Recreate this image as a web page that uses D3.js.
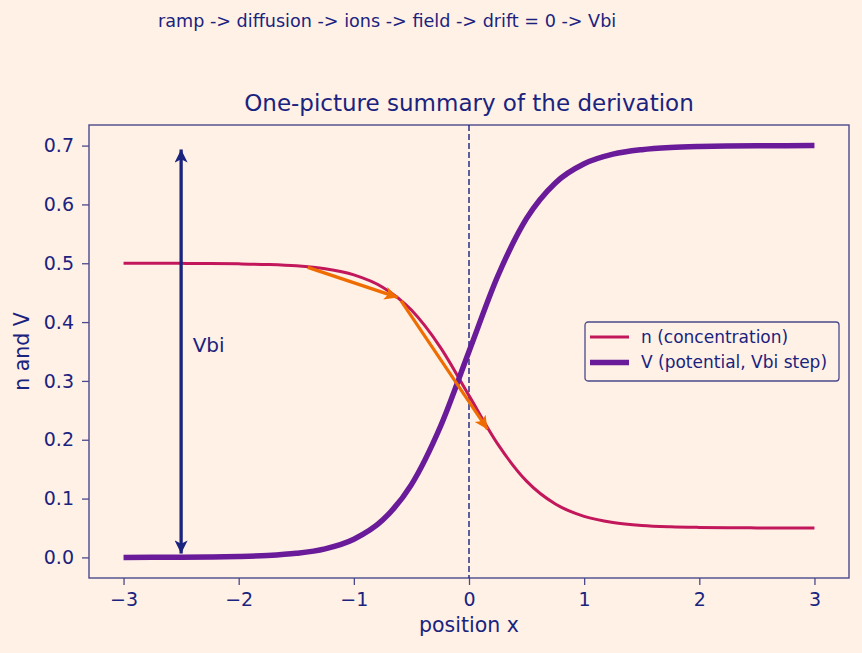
<!DOCTYPE html>
<html>
<head>
<meta charset="utf-8">
<script src="https://cdn.jsdelivr.net/npm/d3@7"></script>
<style>
  html, body { margin: 0; padding: 0; background: #fff1e6; }
  svg { display: block; font-family: "DejaVu Sans", sans-serif; }
</style>
</head>
<body>
<div id="holder"></div>
<script>
// positions along the junction
const xs = [-3, -2.75, -2.5, -2.25, -2, -1.75, -1.5, -1.25, -1, -0.75, -0.5, -0.25, 0,
            0.25, 0.5, 0.75, 1, 1.25, 1.5, 1.75, 2, 2.25, 2.5, 2.75, 3];
// n (concentration)
const nVals = [0.500, 0.4999, 0.4998, 0.4996, 0.4990, 0.4979, 0.4956, 0.4906, 0.4802, 0.4593, 0.4204, 0.3575, 0.275,
               0.1925, 0.1296, 0.0907, 0.0698, 0.0594, 0.0544, 0.0521, 0.0510, 0.0504, 0.0502, 0.0501, 0.0500];
// V (potential)
const vVals = [0.000, 0.0002, 0.0003, 0.0007, 0.0015, 0.0032, 0.0069, 0.0146, 0.0309, 0.0634, 0.1238, 0.2217, 0.35,
               0.4783, 0.5762, 0.6366, 0.6691, 0.6854, 0.6931, 0.6968, 0.6985, 0.6993, 0.6997, 0.6999, 0.700];
// orange arrows walking down the n curve: [x0, y0, x1, y1]
const walk = [[-1.4, 0.493, -0.62, 0.442], [-0.59, 0.436, 0.16, 0.218]];
const vbiX = -2.5, vbiLo = 0.0, vbiHi = 0.7;
const xTicks = [-3, -2, -1, 0, 1, 2, 3];
const yTicks = [0, 0.1, 0.2, 0.3, 0.4, 0.5, 0.6, 0.7];

const W = 862, H = 653;
const m = {left: 89, right: 13, top: 125, bottom: 75};
const ink = "#1a237e", frame = "#4a4a8c";
const cN = "#c2185b", cV = "#6a1b9a", cArrow = "#ef6c00";

const svg = d3.select('#holder').append('svg').attr('width', W).attr('height', H);
svg.append('rect').attr('width', W).attr('height', H).attr('fill', '#fff1e6');

const x = d3.scaleLinear().domain([-3.3, 3.3]).range([m.left, W - m.right]);
const y = d3.scaleLinear().domain([-0.035, 0.735]).range([H - m.bottom, m.top]);

const defs = svg.append('defs');
function head(id, color, w, h) {
  defs.append('marker').attr('id', id)
    .attr('viewBox', '0 0 10 10').attr('refX', 10).attr('refY', 5)
    .attr('markerWidth', w).attr('markerHeight', h)
    .attr('markerUnits', 'userSpaceOnUse').attr('orient', 'auto-start-reverse')
    .append('path').attr('d', 'M0,0 L10,5 L0,10 L2.5,5 Z').attr('fill', color);
}
head('headO', cArrow, 17, 13);
head('headB', ink, 14, 13);

// axes
const xAxis = svg.append('g').attr('transform', `translate(0,${H - m.bottom})`)
  .call(d3.axisBottom(x).tickValues(xTicks).tickSize(7).tickPadding(8)
    .tickFormat(d => d < 0 ? '\u2212' + Math.abs(d) : d));
const yAxis = svg.append('g').attr('transform', `translate(${m.left},0)`)
  .call(d3.axisLeft(y).tickValues(yTicks).tickSize(7).tickPadding(8).tickFormat(d3.format('.1f')));
[xAxis, yAxis].forEach(g => {
  g.select('.domain').remove();
  g.selectAll('line').attr('stroke', frame).attr('stroke-width', 1.3);
  g.selectAll('text').attr('fill', ink).attr('font-size', 19).attr('font-family', '"DejaVu Sans", sans-serif');
});

svg.append('rect').attr('x', m.left).attr('y', m.top)
  .attr('width', W - m.left - m.right).attr('height', H - m.top - m.bottom)
  .attr('fill', 'none').attr('stroke', frame).attr('stroke-width', 1.4);

// dashed centre line
svg.append('line').attr('x1', x(0)).attr('x2', x(0)).attr('y1', m.top).attr('y2', H - m.bottom)
  .attr('stroke', ink).attr('stroke-width', 1.4).attr('stroke-dasharray', '6,3');

const line = d3.line().x(d => x(d[0])).y(d => y(d[1])).curve(d3.curveMonotoneX);
svg.append('path').datum(xs.map((d, i) => [d, nVals[i]]))
  .attr('d', line).attr('fill', 'none').attr('stroke', cN).attr('stroke-width', 3);
svg.append('path').datum(xs.map((d, i) => [d, vVals[i]]))
  .attr('d', line).attr('fill', 'none').attr('stroke', cV).attr('stroke-width', 5.5);

// Vbi double arrow
svg.append('line').attr('x1', x(vbiX)).attr('x2', x(vbiX))
  .attr('y1', y(vbiLo) - 4).attr('y2', y(vbiHi) + 4)
  .attr('stroke', ink).attr('stroke-width', 3.3)
  .attr('marker-start', 'url(#headB)').attr('marker-end', 'url(#headB)');
svg.append('text').attr('x', x(vbiX + 0.1)).attr('y', y(0.35))
  .attr('fill', ink).attr('font-size', 20).text('Vbi');

// orange walk arrows
svg.selectAll('.walk').data(walk).join('line').attr('class', 'walk')
  .attr('x1', d => x(d[0])).attr('y1', d => y(d[1]))
  .attr('x2', d => x(d[2])).attr('y2', d => y(d[3]))
  .attr('stroke', cArrow).attr('stroke-width', 3.2).attr('marker-end', 'url(#headO)');

// legend
const lg = svg.append('g').attr('transform', 'translate(585,322)');
lg.append('rect').attr('width', 254).attr('height', 59).attr('rx', 3)
  .attr('fill', '#fff1e6').attr('stroke', frame).attr('stroke-width', 1.3);
[["n (concentration)", cN, 3], ["V (potential, Vbi step)", cV, 5.5]].forEach((it, i) => {
  const yy = 15 + i * 25.5;
  lg.append('line').attr('x1', 5).attr('x2', 44).attr('y1', yy).attr('y2', yy)
    .attr('stroke', it[1]).attr('stroke-width', it[2]);
  lg.append('text').attr('x', 56).attr('y', yy).attr('dy', '0.35em')
    .attr('fill', ink).attr('font-size', 17).text(it[0]);
});

// titles
svg.append('text').attr('x', 158).attr('y', 27).attr('fill', ink).attr('font-size', 17.6)
  .text('ramp -> diffusion -> ions -> field -> drift = 0 -> Vbi');
svg.append('text').attr('x', (m.left + W - m.right) / 2).attr('y', 111).attr('text-anchor', 'middle')
  .attr('fill', ink).attr('font-size', 23).text('One-picture summary of the derivation');
svg.append('text').attr('x', (m.left + W - m.right) / 2).attr('y', 632).attr('text-anchor', 'middle')
  .attr('fill', ink).attr('font-size', 20.5).text('position x');
svg.append('text').attr('transform', `translate(29,${(m.top + H - m.bottom) / 2}) rotate(-90)`)
  .attr('text-anchor', 'middle').attr('fill', ink).attr('font-size', 20.5).text('n and V');
</script>
</body>
</html>
